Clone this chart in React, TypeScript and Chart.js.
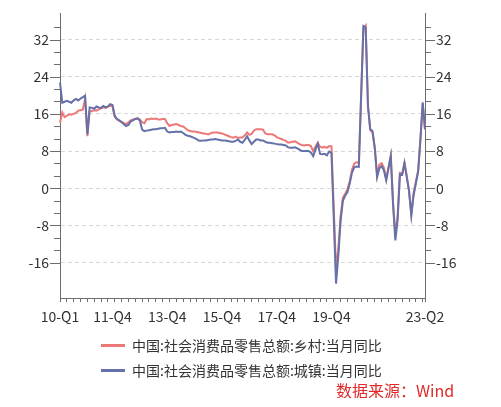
import React, { useEffect, useRef } from 'react';
import { Chart, registerables } from 'chart.js';

Chart.register(...registerables);

// ---- data ----
const startYear = 2010;
const monthCount = 161; // 2010-01 .. 2023-05
const categories: string[] = Array.from({ length: monthCount }, (_, i) => {
  const y = startYear + Math.floor(i / 12);
  const m = (i % 12) + 1;
  return `${y}-${String(m).padStart(2, '0')}`;
});

const seriesNames = [
  '中国:社会消费品零售总额:乡村:当月同比',
  '中国:社会消费品零售总额:城镇:当月同比',
];
const seriesColors = ['#ec7878', '#6571a9'];

const rural: (number | null)[] = [
  14.1, 16.3, 15.3, 15.6, 15.9, 15.8, 16.0, 16.2, 16.7, 16.8, 16.9, 19.3,
  11.2, 16.5, 16.6, 16.8, 16.7, 17.0, 17.2, 17.4, 17.3, 17.5, 17.8, 17.6,
  15.4, 14.8, 14.5, 14.3, 14.0, 13.8, 14.2, 14.6, 14.8, 14.9, 15.1, 14.8,
  14.2, 14.0, 14.9, 14.8, 15.0, 14.9, 15.0, 14.8, 14.8, 14.9, 14.9, 14.0,
  13.4, 13.6, 13.7, 13.8, 13.6, 13.4, 13.3, 12.9, 12.5, 12.3, 12.2, 12.2,
  12.1, 12.0, 11.9, 11.8, 11.7, 11.6, 11.8, 12.0, 12.0, 12.0, 11.9, 11.8,
  11.6, 11.4, 11.2, 11.0, 10.9, 11.1, 10.8, 10.9, 10.9, 11.4, 12.0, 11.5,
  11.7, 12.4, 12.7, 12.7, 12.7, 12.6, 11.8, 11.6, 11.6, 11.6, 11.4, 11.0,
  10.8, 10.6, 10.4, 10.2, 9.8, 9.9, 10.0, 10.1, 9.8, 9.5, 9.3, 9.2,
  9.3, 9.3, 9.1, 8.0, 9.0, 9.8, 8.9, 8.8, 8.9, 8.7, 9.1, 9.0,
  null, -17.4, -13.0, -6.0, -2.0, -1.2, -0.2, 1.5, 4.0, 5.3, 5.6, 5.5,
  null, 34.3, 35.0, 17.8, 12.5, 12.0, 8.6, 2.8, 5.1, 5.4, 4.4, 2.0,
  null, 7.0, -3.0, -10.0, -5.8, 3.3, 3.1, 5.5, 2.6, -0.5, -5.6, -1.0,
  null, 3.8, 10.5, 18.1, 12.6,
];

const urban: (number | null)[] = [
  22.8, 18.4, 18.6, 18.8, 18.6, 18.4, 18.9, 19.2, 18.9, 19.3, 19.6, 19.9,
  11.6, 17.4, 17.3, 17.1, 17.6, 17.4, 17.3, 17.7, 17.4, 17.6, 18.1, 17.9,
  15.6, 14.9, 14.6, 14.2, 13.8, 13.4, 13.6, 14.4, 14.6, 14.9, 15.0, 14.6,
  12.6, 12.3, 12.4, 12.5, 12.6, 12.7, 12.7, 12.8, 12.9, 12.9, 13.0, 12.2,
  12.0, 12.1, 12.1, 12.2, 12.1, 12.2, 11.9, 11.5, 11.3, 11.2, 11.0, 10.8,
  10.5, 10.2, 10.2, 10.3, 10.3, 10.4, 10.5, 10.5, 10.6, 10.5, 10.4, 10.3,
  10.3, 10.2, 10.1, 10.0, 10.0, 10.2, 10.5, 10.0, 9.8, 10.4, 11.2, 10.3,
  9.5, 10.0, 10.5, 10.5, 10.3, 10.3, 10.0, 9.8, 9.8, 9.7, 9.6, 9.5,
  9.4, 9.4, 9.3, 9.2, 8.8, 8.7, 8.7, 8.8, 8.6, 8.3, 8.0, 8.0,
  8.0, 8.0, 7.7, 6.9, 8.3, 9.6, 7.4, 7.3, 7.4, 7.1, 7.9, 7.6,
  null, -20.5, -14.5, -7.0, -2.7, -1.6, -0.8, 1.0, 3.4, 4.5, 4.7, 4.6,
  null, 34.9, 34.6, 17.6, 12.7, 12.3, 8.6, 2.4, 4.3, 4.8, 3.8, 1.7,
  null, 6.9, -3.6, -11.2, -6.8, 3.0, 2.9, 5.4, 2.4, -0.6, -5.8, -1.5,
  null, 3.6, 10.6, 18.5, 12.7,
];

const xLabelIndex = [0, 23, 47, 71, 95, 119, 160];
const xLabelText = ['10-Q1', '11-Q4', '13-Q4', '15-Q4', '17-Q4', '19-Q4', '23-Q2'];
const yMajorTicks = [-16, -8, 0, 8, 16, 24, 32];
const yMinorDivisions = 3;
const yMin = -23.6;
const yMax = 37.7;
const sourceText = '数据来源：Wind';

// ---- styling ----
const FONT = '"Noto Sans CJK SC", "Noto Sans", sans-serif';
const AXIS_COLOR = '#6e6e6e';
const GRID_COLOR = '#d8d8d8';
const TEXT_COLOR = '#333333';

const yStep = yMajorTicks[1] - yMajorTicks[0];
const yTickValues: number[] = [];
yMajorTicks.forEach((m) => {
  for (let k = 0; k < yMinorDivisions; k++) {
    const v = m + (k * yStep) / yMinorDivisions;
    if (v < 36) yTickValues.push(v);
  }
});
const isMajor = (v: number) => Math.abs(v / yStep - Math.round(v / yStep)) < 1e-6;

const tickMarks = {
  id: 'tickMarks',
  afterDraw(chart: any) {
    const ctx = chart.ctx;
    const { left, right } = chart.chartArea;
    ctx.save();
    ctx.strokeStyle = AXIS_COLOR;
    ctx.lineWidth = 1;
    ['y', 'y1'].forEach((id) => {
      const s = chart.scales[id];
      s.ticks.forEach((t: any) => {
        const py = Math.round(s.getPixelForValue(t.value)) + 0.5;
        const len = isMajor(t.value) ? 10 : 6;
        ctx.beginPath();
        if (id === 'y') {
          ctx.moveTo(left, py);
          ctx.lineTo(left - len, py);
        } else {
          ctx.moveTo(right, py);
          ctx.lineTo(right + len, py);
        }
        ctx.stroke();
      });
    });
    ctx.restore();
  },
};

function yAxis(position: 'left' | 'right', width: number, drawGrid: boolean) {
  return {
    type: 'linear' as const,
    position,
    min: yMin,
    max: yMax,
    afterBuildTicks: (scale: any) => {
      scale.ticks = yTickValues.map((v) => ({ value: v }));
    },
    afterFit: (scale: any) => {
      scale.width = width;
      scale.paddingTop = 0;
      scale.paddingBottom = 0;
    },
    grid: {
      drawOnChartArea: drawGrid,
      drawTicks: false,
      color: (c: any) => (c.tick && isMajor(c.tick.value) ? GRID_COLOR : 'rgba(0,0,0,0)'),
      lineWidth: 1,
    },
    border: { display: true, color: AXIS_COLOR, width: 1, dash: [4, 3] },
    ticks: {
      padding: 11,
      color: TEXT_COLOR,
      font: { family: FONT, size: 14 },
      autoSkip: false,
      callback: (v: any) => (isMajor(Number(v)) ? String(Math.round(Number(v))) : ''),
    },
  };
}

export default function App() {
  const canvasRef = useRef<HTMLCanvasElement | null>(null);

  useEffect(() => {
    if (!canvasRef.current) return;
    const chart = new Chart(canvasRef.current, {
      type: 'line',
      data: {
        labels: categories,
        datasets: [
          {
            label: seriesNames[0],
            data: rural,
            borderColor: seriesColors[0],
            backgroundColor: seriesColors[0],
            borderWidth: 2,
            pointRadius: 0,
            tension: 0,
            spanGaps: true,
            order: 2,
            yAxisID: 'y',
          },
          {
            label: seriesNames[1],
            data: urban,
            borderColor: seriesColors[1],
            backgroundColor: seriesColors[1],
            borderWidth: 2,
            pointRadius: 0,
            tension: 0,
            spanGaps: true,
            order: 1,
            yAxisID: 'y',
          },
        ],
      },
      options: {
        animation: false,
        responsive: true,
        maintainAspectRatio: false,
        layout: { padding: { top: 5, left: 0, right: 0, bottom: 0 } },
        plugins: { legend: { display: false }, tooltip: { enabled: false } },
        scales: {
          x: {
            type: 'category',
            offset: false,
            afterFit: (scale: any) => {
              scale.height = 40;
              scale.paddingLeft = 0;
              scale.paddingRight = 0;
            },
            grid: {
              drawOnChartArea: false,
              drawTicks: true,
              tickLength: 4,
              offset: false,
              color: (c: any) =>
                c.index % 3 === 0 || c.index === monthCount - 1 ? AXIS_COLOR : 'rgba(0,0,0,0)',
            },
            border: { display: true, color: AXIS_COLOR, width: 1 },
            ticks: {
              autoSkip: false,
              maxRotation: 0,
              minRotation: 0,
              padding: 6,
              color: TEXT_COLOR,
              font: { family: FONT, size: 14 },
              callback: (_v: any, i: number) => {
                const k = xLabelIndex.indexOf(i);
                return k >= 0 ? xLabelText[k] : '';
              },
            },
          },
          y: yAxis('left', 52, true) as any,
          y1: yAxis('right', 68, false) as any,
        },
      },
      plugins: [tickMarks],
    });
    return () => chart.destroy();
  }, []);

  return (
    <div style={{ position: 'relative', width: 485, height: 390, fontFamily: FONT }}>
      <div style={{ position: 'absolute', left: 0, top: 0, width: 485, height: 330 }}>
        <canvas ref={canvasRef} />
      </div>
      {seriesNames.map((name, i) => (
        <div
          key={name}
          style={{
            position: 'absolute',
            left: 93,
            top: 327 + i * 25,
            height: 20,
            display: 'flex',
            alignItems: 'center',
            whiteSpace: 'nowrap',
          }}
        >
          <span
            style={{
              display: 'inline-block',
              width: 24,
              height: 3,
              background: seriesColors[i],
              marginRight: 7,
            }}
          />
          <span style={{ fontSize: 14, lineHeight: '20px', color: TEXT_COLOR }}>{name}</span>
        </div>
      ))}
      <div
        style={{
          position: 'absolute',
          left: 328,
          top: 371,
          fontSize: 16,
          lineHeight: '22px',
          color: '#e02a2a',
          whiteSpace: 'nowrap',
        }}
      >
        {sourceText}
      </div>
    </div>
  );
}
